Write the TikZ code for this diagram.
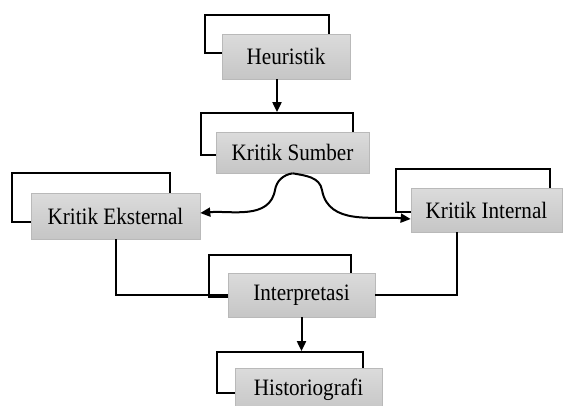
\documentclass[tikz,border=0pt]{standalone}
\usepackage{fontspec}
\setmainfont{Liberation Serif}[FakeStretch=0.9]
\usetikzlibrary{arrows.meta}

\begin{document}
\begin{tikzpicture}[x=1pt, y=-1pt,
    frm/.style={draw, line width=1.8pt, inner sep=0pt},
    stepbox/.style={draw=gray!55, line width=0.6pt, top color=gray!28, bottom color=gray!45,
        minimum height=44pt, inner sep=0pt, font=\fontsize{23.5}{26}\selectfont},
    arr/.style={line width=2pt, -{Triangle[length=10pt,width=9pt]}},
    lnk/.style={line width=2pt}]
    \useasboundingbox (0,0) rectangle (563,405);
                    % frames behind the boxes
                    \node at (267,34) [frm, minimum width=124pt, minimum height=38pt] (heuristik frame) {};
                    \node at (277,134) [frm, minimum width=152pt, minimum height=42pt] (sumber frame) {};
                    \node at (91,197.5) [frm, minimum width=158pt, minimum height=49pt] (eksternal frame) {};
                    \node at (473,190.5) [frm, minimum width=154pt, minimum height=43pt] (internal frame) {};
                    \node at (280,276) [frm, minimum width=142pt, minimum height=42pt] (interpretasi frame) {};
                    \node at (290,372.5) [frm, minimum width=146pt, minimum height=41pt] (historiografi frame) {};
                    % the steps
                    \node at (286,56.5) [stepbox, minimum width=128pt, minimum height=45pt] (Heuristik) {Heuristik};
                    \node at (292.5,152.5) [stepbox, minimum width=153pt, minimum height=41pt] (Kritik Sumber) {Kritik Sumber};
                    \node at (115.5,216) [stepbox, minimum width=169pt, minimum height=46pt] (Kritik Eksternal) {Kritik Eksternal};
                    \node at (486.5,210) [stepbox, minimum width=151pt] (Kritik Internal) {Kritik Internal};
                    \node at (301.5,295) [stepbox, minimum width=147pt] (Interpretasi) {Interpretasi};
                    \node at (308.5,390) [stepbox, minimum width=147pt] (Historiografi) {Historiografi};
                    \draw [arr] (Heuristik.south -| sumber frame.north) -- (sumber frame.north);
                    % kritik sumber splits into the two kinds of kritik
                    \draw [arr] (Kritik Sumber.south) to[out=190,in=80] (275,190) to[out=-100,in=5] ([yshift=3pt]Kritik Eksternal.east);
                    \draw [arr] (Kritik Sumber.south) to[out=-10,in=100] (322,190) to[out=-80,in=175] ([yshift=-9pt]Kritik Internal.west);
                    \draw [lnk] (Kritik Eksternal.south) |- (Interpretasi.west);
                    \draw [lnk] ([xshift=-30pt]Kritik Internal.south) |- (Interpretasi.east);
                    \draw [arr] (Interpretasi.south) -- (Interpretasi.south |- historiografi frame.north);
                \end{tikzpicture}
\end{document}
